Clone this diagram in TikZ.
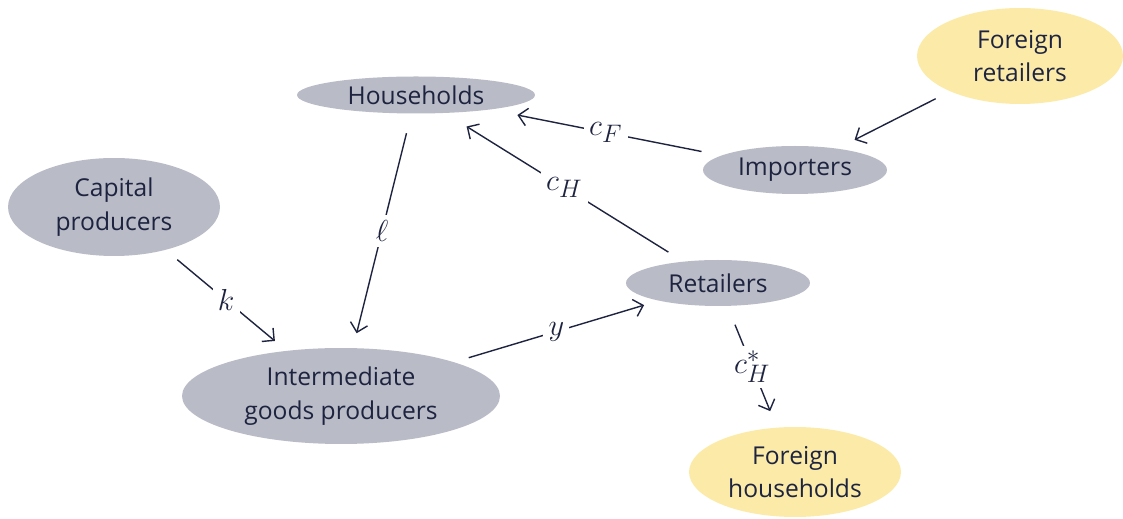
\documentclass[tikz,border=0pt]{standalone}
\usepackage{fontspec}
\setmainfont{Open Sans}
\usetikzlibrary{arrows.meta,shapes.geometric}
\definecolor{inkblue}{HTML}{1E2440}
\definecolor{agentgray}{HTML}{B9BBC7}
\definecolor{foreignyellow}{HTML}{FCEBA8}

\begin{document}
\begin{tikzpicture}[x=0.02cm, y=-0.02cm,
  agent/.style={ellipse, fill=agentgray, inner sep=0pt, font=\fontsize{14}{19}\selectfont, text=inkblue, align=center},
  foreign/.style={agent, fill=foreignyellow},
  flow/.style={-{Straight Barb[length=5pt]}, thick, draw=inkblue, shorten <=0.4cm, shorten >=0.4cm},
  lbl/.style={fill=white, text=inkblue, font=\fontsize{19}{22}\selectfont, inner sep=3pt},
]
\useasboundingbox (0,0) rectangle (1123,519);

% Home agents
\node[agent, minimum width=4.76cm, minimum height=0.74cm] (hh) at (416,95) {Households};
\node[agent, minimum width=4.24cm, minimum height=1.96cm] (cap) at (114,207) {Capital\\producers};
\node[agent, minimum width=3.68cm, minimum height=0.96cm] (imp) at (795,170) {Importers};
\node[agent, minimum width=3.68cm, minimum height=0.92cm] (ret) at (718,283) {Retailers};
\node[agent, minimum width=6.36cm, minimum height=1.92cm] (igp) at (341,396) {Intermediate\\goods producers};

% Foreign agents
\node[foreign, minimum width=4.12cm, minimum height=1.92cm] (fret) at (1020,56) {Foreign\\retailers};
\node[foreign, minimum width=4.24cm, minimum height=1.80cm] (fhh) at (795,472) {Foreign\\households};

% Flows
\draw[flow, shorten <=0.32cm, shorten >=0.38cm] (fret) -- (imp);
\draw[flow, shorten >=0.55cm] (imp) -- node[lbl]{$c_F$} (hh);
\draw[flow, shorten <=0.35cm, shorten >=0.5cm] (ret) -- node[lbl]{$c_H$} (hh);
\draw[flow, shorten >=0.3cm] (hh) -- node[lbl]{$\ell$} (igp);
\draw[flow, shorten <=0.3cm, shorten >=0.3cm] (cap) -- node[lbl]{$k$} (igp);
\draw[flow, shorten <=0.3cm, shorten >=0.3cm] (igp) -- node[lbl]{$y$} (ret);
\draw[flow, shorten <=0.4cm, shorten >=0.35cm] (ret) -- node[lbl]{$c_H^*$} (fhh);

\end{tikzpicture}
\end{document}
